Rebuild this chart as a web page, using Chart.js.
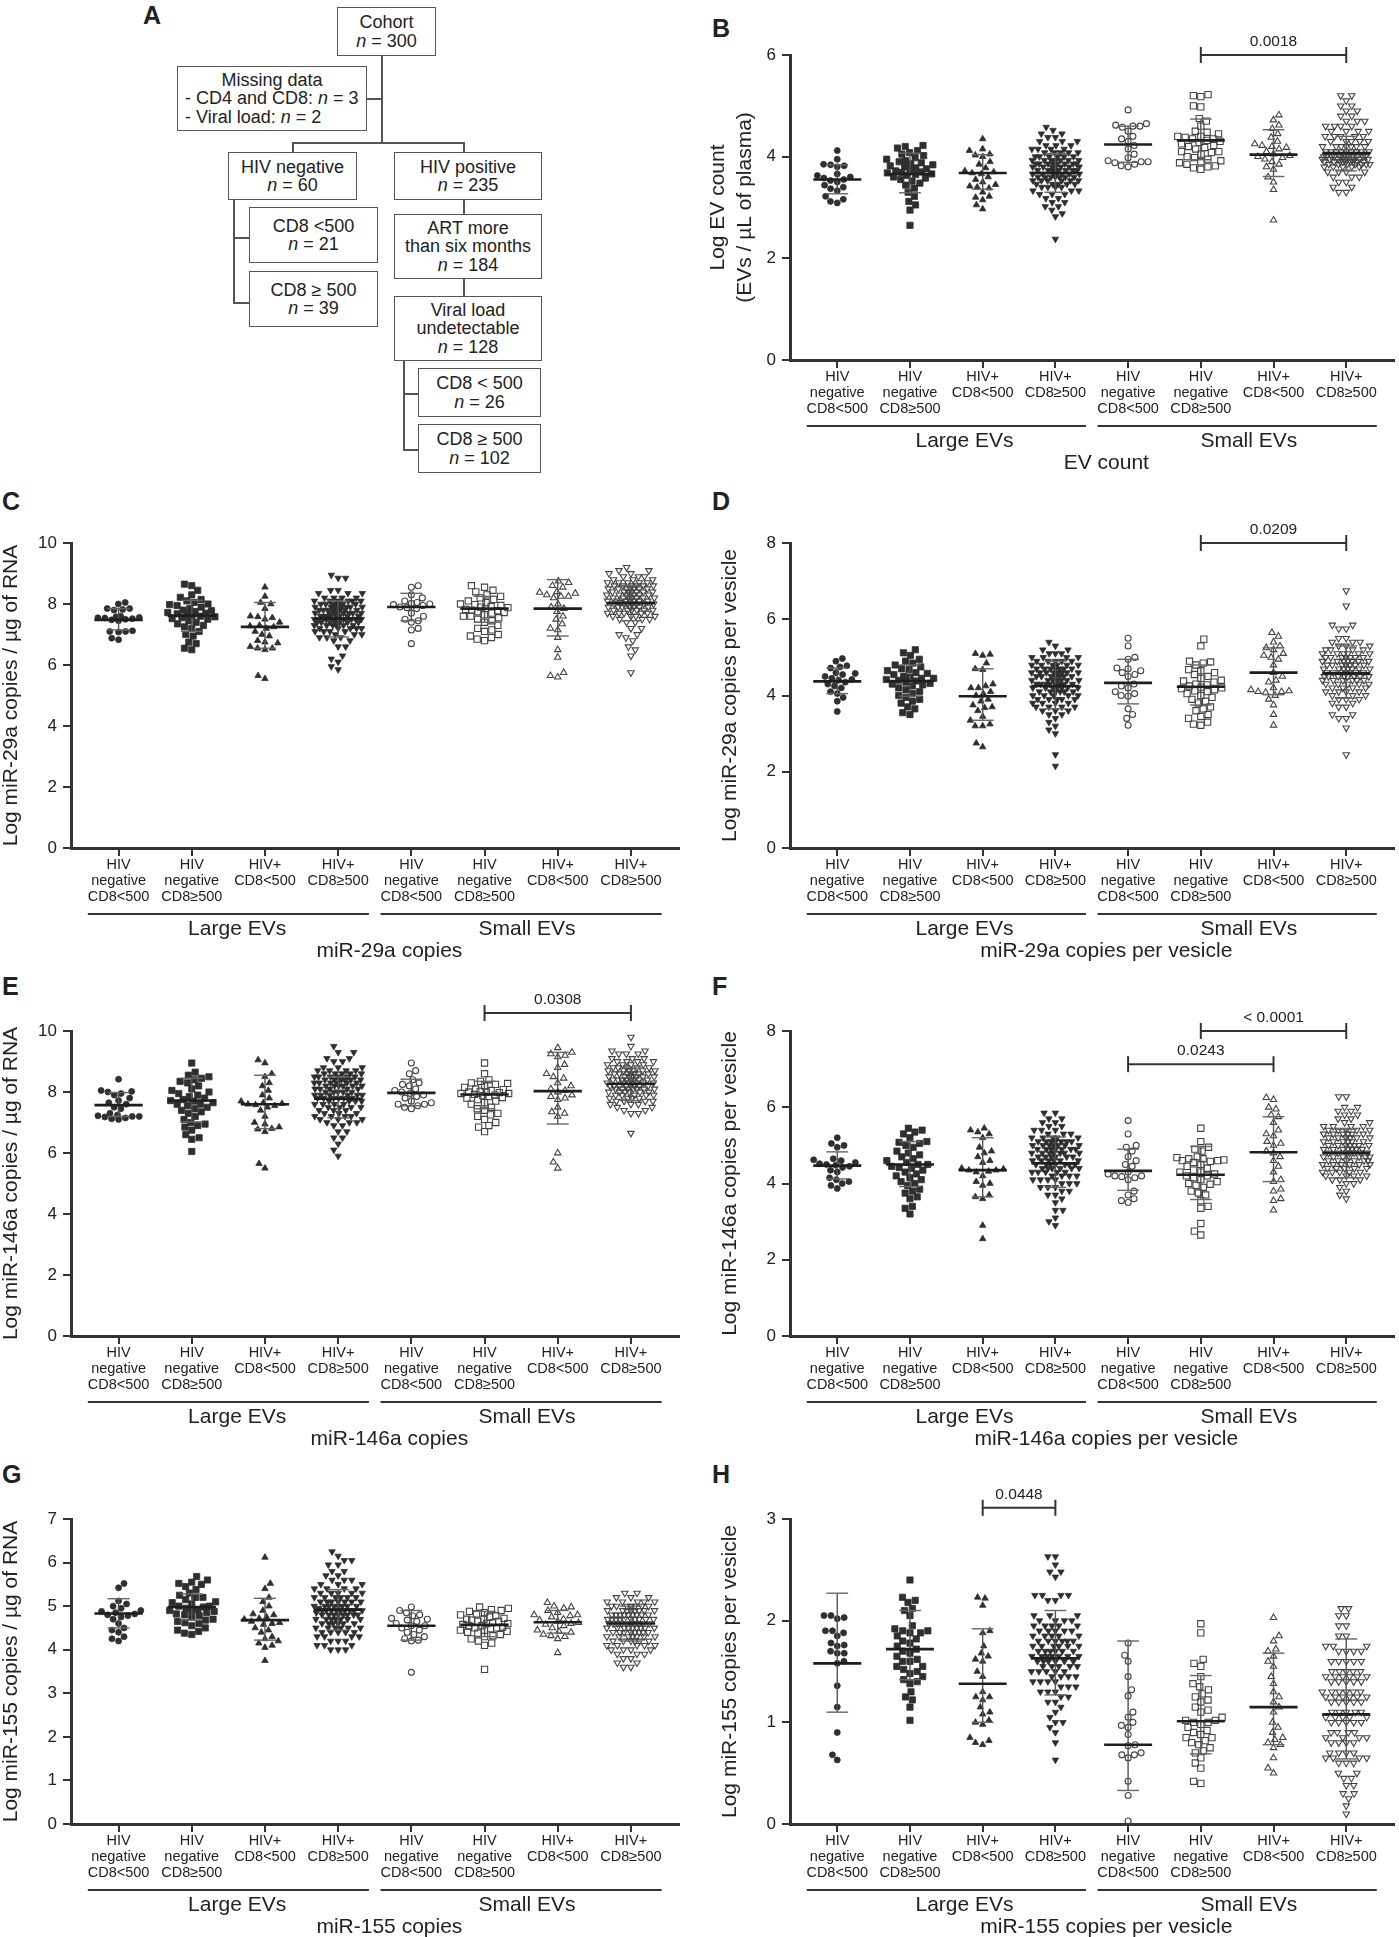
<!DOCTYPE html>
<html>
<head>
<meta charset="utf-8">
<script src="https://cdn.jsdelivr.net/npm/chart.js@4.4.1/dist/chart.umd.min.js"></script>
<style>
body{margin:0;background:#fff;width:1399px;height:1937px;position:relative;overflow:hidden;font-family:"Liberation Sans",Arial,sans-serif;color:#222}
.box{position:absolute;border:1.5px solid #555;box-sizing:border-box;display:flex;flex-direction:column;justify-content:center;align-items:center;font-size:18px;line-height:18.5px;text-align:center}
.ln{position:absolute;background:#555}
.lt{position:absolute;font-weight:bold;font-size:25px;line-height:28px}
canvas{position:absolute}
</style>
</head>
<body>

<!-- panel A: cohort flowchart -->
<div class="lt" style="left:143px;top:1px">A</div>
<div class="box" style="left:337px;top:7px;width:99px;height:49px"><div>Cohort</div><div><i>n</i> = 300</div></div>
<div class="box" style="left:177px;top:66px;width:190px;height:65px;align-items:stretch">
  <div style="text-align:center">Missing data</div>
  <div style="text-align:left;padding-left:7px">- CD4 and CD8: <i>n</i> = 3</div>
  <div style="text-align:left;padding-left:7px">- Viral load: <i>n</i> = 2</div>
</div>
<div class="box" style="left:228px;top:152px;width:129px;height:48px"><div>HIV negative</div><div><i>n</i> = 60</div></div>
<div class="box" style="left:394px;top:152px;width:148px;height:48px"><div>HIV positive</div><div><i>n</i> = 235</div></div>
<div class="box" style="left:249px;top:207px;width:129px;height:56px"><div>CD8 &lt;500</div><div><i>n</i> = 21</div></div>
<div class="box" style="left:249px;top:271px;width:129px;height:56px"><div>CD8 ≥ 500</div><div><i>n</i> = 39</div></div>
<div class="box" style="left:394px;top:214px;width:148px;height:65px"><div>ART more</div><div>than six months</div><div><i>n</i> = 184</div></div>
<div class="box" style="left:394px;top:296px;width:148px;height:65px"><div>Viral load</div><div>undetectable</div><div><i>n</i> = 128</div></div>
<div class="box" style="left:418px;top:368px;width:123px;height:49px"><div>CD8 &lt; 500</div><div><i>n</i> = 26</div></div>
<div class="box" style="left:418px;top:424px;width:123px;height:49px"><div>CD8 ≥ 500</div><div><i>n</i> = 102</div></div>
<div class="ln" style="left:381px;top:56px;width:1.5px;height:87px"></div>
<div class="ln" style="left:367px;top:98px;width:15px;height:1.5px"></div>
<div class="ln" style="left:292px;top:142px;width:173px;height:1.5px"></div>
<div class="ln" style="left:292px;top:142px;width:1.5px;height:10px"></div>
<div class="ln" style="left:463px;top:142px;width:1.5px;height:10px"></div>
<div class="ln" style="left:233px;top:200px;width:1.5px;height:104px"></div>
<div class="ln" style="left:233px;top:237px;width:16px;height:1.5px"></div>
<div class="ln" style="left:233px;top:302px;width:16px;height:1.5px"></div>
<div class="ln" style="left:463px;top:200px;width:1.5px;height:14px"></div>
<div class="ln" style="left:463px;top:279px;width:1.5px;height:17px"></div>
<div class="ln" style="left:403px;top:361px;width:1.5px;height:90px"></div>
<div class="ln" style="left:403px;top:393px;width:15px;height:1.5px"></div>
<div class="ln" style="left:403px;top:449px;width:15px;height:1.5px"></div>

<div class="lt" style="left:712px;top:14px">B</div>
<div class="lt" style="left:2px;top:487px">C</div>
<div class="lt" style="left:712px;top:487px">D</div>
<div class="lt" style="left:2px;top:972px">E</div>
<div class="lt" style="left:712px;top:972px">F</div>
<div class="lt" style="left:2px;top:1460px">G</div>
<div class="lt" style="left:712px;top:1460px">H</div>

<script>
// groups: large EVs (4) then small EVs (4)
const categories = [
  ['HIV', 'negative', 'CD8<500'], ['HIV', 'negative', 'CD8≥500'], ['HIV+', 'CD8<500'], ['HIV+', 'CD8≥500'],
  ['HIV', 'negative', 'CD8<500'], ['HIV', 'negative', 'CD8≥500'], ['HIV+', 'CD8<500'], ['HIV+', 'CD8≥500']
];
const groupLabels = ['Large EVs', 'Small EVs'];

// B - EV count
const evCount = [
  [4.12,3.95,3.85,3.84,3.82,3.8,3.66,3.63,3.6,3.58,3.55,3.53,3.5,3.44,3.4,3.37,3.33,3.22,3.16,3.12,3.09],
  [4.22,4.2,4.17,4.12,4.08,4.05,4.02,3.98,3.95,3.92,3.9,3.88,3.86,3.84,3.82,3.8,3.78,3.76,3.74,3.72,3.7,3.69,3.68,3.66,3.65,3.63,3.6,3.58,3.55,3.52,3.48,3.44,3.38,3.3,3.22,3.12,3.05,2.95,2.65],
  [4.35,4.15,4.12,4.05,4.03,4.0,3.9,3.85,3.78,3.72,3.7,3.68,3.66,3.6,3.55,3.5,3.45,3.42,3.4,3.38,3.3,3.22,3.2,3.15,3.05,2.97],
  [4.58,4.52,4.45,4.45,4.38,4.38,4.3,4.3,4.3,4.22,4.22,4.22,4.15,4.15,4.15,4.15,4.08,4.08,4.08,4.08,4.08,4.0,4.0,4.0,4.0,4.0,4.0,3.93,3.93,3.93,3.93,3.93,3.93,3.93,3.86,3.86,3.86,3.86,3.86,3.86,3.86,3.86,3.8,3.8,3.8,3.8,3.8,3.8,3.8,3.73,3.73,3.73,3.73,3.73,3.73,3.73,3.73,3.66,3.66,3.66,3.66,3.66,3.66,3.66,3.6,3.6,3.6,3.6,3.6,3.6,3.6,3.53,3.53,3.53,3.53,3.53,3.53,3.46,3.46,3.46,3.46,3.46,3.4,3.4,3.4,3.4,3.33,3.33,3.33,3.26,3.26,3.26,3.18,3.18,3.1,3.1,3.02,3.02,2.95,2.88,2.82,2.38],
  [4.92,4.65,4.62,4.6,4.6,4.58,4.5,4.4,4.35,4.3,4.22,4.15,4.05,3.98,3.92,3.9,3.9,3.88,3.85,3.82,3.8],
  [5.22,5.2,5.18,5.0,4.98,4.75,4.7,4.6,4.5,4.48,4.45,4.4,4.4,4.38,4.35,4.32,4.3,4.28,4.25,4.22,4.2,4.18,4.15,4.1,4.08,4.05,4.0,3.98,3.95,3.92,3.9,3.88,3.85,3.82,3.8,3.78,3.75,4.35,4.1],
  [4.82,4.72,4.62,4.55,4.45,4.38,4.3,4.25,4.2,4.18,4.15,4.1,4.05,4.02,4.0,3.95,3.9,3.85,3.8,3.75,3.6,3.5,3.35,2.75,4.22,3.98],
  [5.2,5.2,5.1,5.0,5.0,4.9,4.9,4.8,4.8,4.7,4.7,4.7,4.6,4.6,4.6,4.6,4.5,4.5,4.5,4.5,4.4,4.4,4.4,4.4,4.4,4.3,4.3,4.3,4.3,4.3,4.2,4.2,4.2,4.2,4.2,4.2,4.2,4.1,4.1,4.1,4.1,4.1,4.1,4.1,4.1,4.1,4.0,4.0,4.0,4.0,4.0,4.0,4.0,4.0,4.0,4.0,4.0,4.0,3.95,3.95,3.95,3.95,3.95,3.95,3.95,3.95,3.95,3.95,3.9,3.9,3.9,3.9,3.9,3.9,3.9,3.9,3.9,3.85,3.85,3.85,3.85,3.85,3.85,3.85,3.8,3.8,3.8,3.8,3.8,3.7,3.7,3.7,3.7,3.6,3.6,3.6,3.5,3.5,3.4,3.4,3.3,3.3]
];
const evCountMid = [3.55, 3.66, 3.68, 3.68, 4.24, 4.32, 4.04, 4.07];
const evCountLo = [3.27, 3.29, 3.36, 3.30, 3.89, 3.94, 3.61, 3.72];
const evCountHi = [3.84, 4.07, 4.04, 4.06, 4.60, 4.74, 4.53, 4.40];

// C - miR-29a copies
const mir29a = [
  [8.05,8.0,7.85,7.85,7.82,7.8,7.6,7.58,7.56,7.55,7.54,7.52,7.5,7.48,7.45,7.12,7.1,7.1,7.08,6.88,6.83],
  [8.65,8.6,8.45,8.3,8.22,8.15,8.1,8.05,8.0,7.98,7.95,7.9,7.85,7.8,7.78,7.75,7.72,7.7,7.68,7.65,7.62,7.6,7.58,7.55,7.52,7.5,7.45,7.4,7.35,7.3,7.25,7.2,7.1,7.0,6.95,6.75,6.7,6.55,6.5],
  [8.55,8.25,8.05,8.0,7.85,7.6,7.58,7.55,7.5,7.4,7.3,7.28,7.25,7.2,7.1,7.0,6.95,6.8,6.75,6.72,6.6,6.55,6.55,6.5,5.65,5.55],
  [8.95,8.85,8.85,8.45,8.45,8.35,8.35,8.35,8.2,8.2,8.2,8.2,8.1,8.1,8.1,8.1,8.1,8.1,8.0,8.0,8.0,8.0,8.0,8.0,8.0,7.9,7.9,7.9,7.9,7.9,7.9,7.9,7.9,7.8,7.8,7.8,7.8,7.8,7.8,7.8,7.8,7.7,7.7,7.7,7.7,7.7,7.7,7.7,7.7,7.6,7.6,7.6,7.6,7.6,7.6,7.6,7.6,7.5,7.5,7.5,7.5,7.5,7.5,7.5,7.5,7.4,7.4,7.4,7.4,7.4,7.4,7.4,7.3,7.3,7.3,7.3,7.3,7.3,7.2,7.2,7.2,7.2,7.2,7.1,7.1,7.1,7.1,7.0,7.0,7.0,6.9,6.9,6.9,6.8,6.8,6.6,6.6,6.3,6.2,6.1,5.95,5.85],
  [8.6,8.55,8.3,8.2,8.1,8.05,8.02,8.0,7.98,7.95,7.9,7.88,7.85,7.7,7.6,7.5,7.45,7.4,7.2,7.15,6.7],
  [8.6,8.55,8.45,8.4,8.3,8.25,8.2,8.15,8.1,8.05,8.0,7.98,7.95,7.92,7.9,7.88,7.85,7.82,7.8,7.78,7.75,7.72,7.7,7.65,7.6,7.55,7.5,7.45,7.4,7.3,7.2,7.15,7.1,7.0,6.95,6.9,6.85,6.8,7.6],
  [8.75,8.7,8.6,8.55,8.4,8.38,8.35,8.3,8.25,8.25,8.2,8.0,7.9,7.85,7.75,7.6,7.5,7.35,7.2,7.15,6.9,6.5,6.25,5.75,5.65,5.6],
  [9.2,9.1,9.1,9.0,9.0,8.9,8.9,8.9,8.8,8.8,8.8,8.7,8.7,8.7,8.7,8.7,8.6,8.6,8.6,8.6,8.6,8.6,8.5,8.5,8.5,8.5,8.5,8.5,8.5,8.4,8.4,8.4,8.4,8.4,8.4,8.4,8.3,8.3,8.3,8.3,8.3,8.3,8.3,8.2,8.2,8.2,8.2,8.2,8.2,8.2,8.1,8.1,8.1,8.1,8.1,8.1,8.1,8.05,8.0,8.0,8.0,8.0,8.0,8.0,8.0,7.9,7.9,7.9,7.9,7.9,7.9,7.9,7.8,7.8,7.8,7.8,7.8,7.8,7.7,7.7,7.7,7.7,7.7,7.6,7.6,7.6,7.6,7.5,7.5,7.5,7.4,7.4,7.2,7.2,7.0,7.0,6.9,6.8,6.6,6.5,6.3,5.75]
];
const mir29aMid = [7.48, 7.62, 7.25, 7.52, 7.90, 7.85, 7.85, 8.03];
const mir29aLo = [7.15, 7.10, 6.55, 6.92, 7.45, 7.40, 6.95, 7.45];
const mir29aHi = [7.85, 8.12, 8.05, 8.10, 8.35, 8.25, 8.80, 8.60];

// D - miR-29a copies per vesicle
const mir29aVes = [
  [4.97,4.9,4.78,4.75,4.72,4.6,4.58,4.55,4.5,4.45,4.42,4.4,4.35,4.3,4.25,4.2,4.1,4.05,3.95,3.85,3.58],
  [5.2,5.12,5.05,4.95,4.9,4.85,4.8,4.75,4.7,4.68,4.65,4.6,4.58,4.55,4.5,4.48,4.45,4.42,4.4,4.38,4.35,4.32,4.3,4.28,4.25,4.2,4.15,4.1,4.05,4.0,3.95,3.9,3.85,3.8,3.7,3.65,3.55,3.5,4.45],
  [5.1,5.08,5.05,4.85,4.7,4.68,4.3,4.25,4.2,4.2,4.1,4.05,4.0,3.9,3.85,3.75,3.7,3.68,3.6,3.45,3.35,3.25,3.2,3.2,2.75,2.65],
  [5.4,5.3,5.2,5.2,5.1,5.1,5.1,5.0,5.0,5.0,5.0,4.9,4.9,4.9,4.9,4.9,4.8,4.8,4.8,4.8,4.8,4.8,4.7,4.7,4.7,4.7,4.7,4.7,4.7,4.6,4.6,4.6,4.6,4.6,4.6,4.6,4.6,4.5,4.5,4.5,4.5,4.5,4.5,4.5,4.4,4.4,4.4,4.4,4.4,4.4,4.4,4.3,4.3,4.3,4.3,4.3,4.3,4.3,4.3,4.2,4.2,4.2,4.2,4.2,4.2,4.2,4.1,4.1,4.1,4.1,4.1,4.1,4.0,4.0,4.0,4.0,4.0,3.9,3.9,3.9,3.9,3.9,3.8,3.8,3.8,3.8,3.7,3.7,3.7,3.7,3.6,3.6,3.6,3.5,3.5,3.4,3.3,3.2,3.1,3.0,2.45,2.15],
  [5.5,5.3,5.0,4.95,4.72,4.7,4.65,4.6,4.55,4.5,4.3,4.25,4.2,4.1,4.05,4.0,3.98,3.65,3.5,3.4,3.22],
  [5.48,5.3,4.9,4.88,4.85,4.8,4.68,4.65,4.6,4.55,4.5,4.45,4.4,4.38,4.35,4.3,4.28,4.25,4.22,4.2,4.18,4.15,4.12,4.1,4.05,4.0,3.95,3.9,3.85,3.8,3.7,3.65,3.6,3.5,3.45,3.4,3.3,3.25,3.22],
  [5.65,5.55,5.4,5.3,5.25,5.2,5.1,5.05,5.0,4.95,4.8,4.6,4.5,4.4,4.35,4.2,4.15,4.12,4.1,4.1,4.08,4.0,3.9,3.75,3.5,3.22],
  [6.75,6.35,5.85,5.85,5.75,5.75,5.5,5.5,5.4,5.4,5.4,5.3,5.3,5.3,5.2,5.2,5.2,5.2,5.1,5.1,5.1,5.1,5.1,5.1,5.0,5.0,5.0,5.0,5.0,5.0,5.0,4.9,4.9,4.9,4.9,4.9,4.9,4.9,4.8,4.8,4.8,4.8,4.8,4.8,4.8,4.7,4.7,4.7,4.7,4.7,4.7,4.7,4.6,4.6,4.6,4.6,4.6,4.6,4.6,4.5,4.5,4.5,4.5,4.5,4.5,4.5,4.5,4.4,4.4,4.4,4.4,4.4,4.4,4.3,4.3,4.3,4.3,4.3,4.2,4.2,4.2,4.2,4.1,4.1,4.1,4.1,4.0,4.0,4.0,3.9,3.9,3.9,3.8,3.8,3.7,3.7,3.5,3.5,3.4,3.4,3.15,2.45]
];
const mir29aVesMid = [4.37, 4.38, 3.98, 4.25, 4.33, 4.23, 4.60, 4.58];
const mir29aVesLo = [4.05, 3.98, 3.35, 3.65, 3.78, 3.75, 4.02, 3.93];
const mir29aVesHi = [4.72, 4.80, 4.70, 4.90, 4.95, 4.80, 5.25, 5.30];

// E - miR-146a copies
const mir146a = [
  [8.42,8.05,8.02,8.0,7.95,7.9,7.8,7.72,7.65,7.6,7.5,7.45,7.3,7.25,7.22,7.2,7.2,7.18,7.15,7.12,7.1],
  [8.95,8.65,8.55,8.5,8.45,8.4,8.35,8.3,8.2,8.1,8.05,8.0,7.95,7.9,7.85,7.8,7.75,7.72,7.7,7.65,7.6,7.55,7.5,7.45,7.4,7.35,7.3,7.2,7.1,7.0,6.95,6.9,6.85,6.75,6.6,6.5,6.45,6.05,7.6],
  [9.05,8.95,8.6,8.5,8.3,8.2,8.05,7.9,7.8,7.7,7.65,7.62,7.6,7.58,7.55,7.5,7.4,7.2,7.0,6.95,6.85,6.8,6.78,6.7,5.65,5.5],
  [9.5,9.3,9.3,9.1,9.1,9.0,9.0,8.8,8.8,8.8,8.7,8.7,8.7,8.7,8.6,8.6,8.6,8.6,8.6,8.5,8.5,8.5,8.5,8.5,8.5,8.4,8.4,8.4,8.4,8.4,8.4,8.3,8.3,8.3,8.3,8.3,8.3,8.2,8.2,8.2,8.2,8.2,8.2,8.1,8.1,8.1,8.1,8.1,8.0,8.0,8.0,8.0,8.0,7.9,7.9,7.9,7.9,7.9,7.9,7.8,7.8,7.8,7.8,7.8,7.8,7.7,7.7,7.7,7.7,7.6,7.6,7.6,7.6,7.5,7.5,7.5,7.5,7.4,7.4,7.4,7.3,7.3,7.3,7.2,7.2,7.2,7.2,7.1,7.1,7.1,7.0,7.0,7.0,6.9,6.9,6.7,6.7,6.5,6.5,6.3,6.1,5.9],
  [8.95,8.7,8.6,8.4,8.3,8.25,8.2,8.1,8.05,8.0,7.95,7.9,7.85,7.8,7.7,7.65,7.6,7.6,7.55,7.5,7.45],
  [8.95,8.6,8.4,8.35,8.3,8.28,8.25,8.2,8.15,8.1,8.08,8.05,8.02,8.0,7.98,7.95,7.92,7.9,7.88,7.85,7.82,7.8,7.75,7.7,7.65,7.6,7.5,7.45,7.4,7.3,7.25,7.2,7.1,7.0,6.9,6.85,6.7,7.95,8.0],
  [9.45,9.3,9.25,9.2,9.15,8.9,8.8,8.6,8.5,8.45,8.2,8.1,8.05,8.0,7.9,7.85,7.8,7.75,7.5,7.35,7.3,7.2,6.0,5.7,5.5,8.3],
  [9.8,9.5,9.35,9.35,9.25,9.25,9.25,9.1,9.1,9.1,9.0,9.0,9.0,9.0,8.9,8.9,8.9,8.9,8.8,8.8,8.8,8.8,8.8,8.7,8.7,8.7,8.7,8.7,8.7,8.6,8.6,8.6,8.6,8.6,8.6,8.6,8.5,8.5,8.5,8.5,8.5,8.5,8.5,8.4,8.4,8.4,8.4,8.4,8.4,8.4,8.4,8.3,8.3,8.3,8.3,8.3,8.3,8.3,8.2,8.2,8.2,8.2,8.2,8.2,8.2,8.2,8.1,8.1,8.1,8.1,8.1,8.1,8.1,8.0,8.0,8.0,8.0,8.0,8.0,7.9,7.9,7.9,7.9,7.9,7.8,7.8,7.8,7.8,7.7,7.7,7.7,7.7,7.6,7.6,7.6,7.5,7.5,7.4,7.4,7.3,7.3,6.65]
];
const mir146aMid = [7.57, 7.72, 7.60, 7.78, 7.97, 7.92, 8.03, 8.27];
const mir146aLo = [7.20, 7.02, 6.80, 7.15, 7.55, 7.45, 6.95, 7.72];
const mir146aHi = [7.98, 8.45, 8.55, 8.50, 8.42, 8.35, 9.30, 8.82];

// F - miR-146a copies per vesicle
const mir146aVes = [
  [5.2,5.05,5.0,4.95,4.65,4.62,4.6,4.55,4.52,4.5,4.48,4.45,4.42,4.35,4.3,4.15,4.1,4.05,4.0,3.95,3.87],
  [5.45,5.4,5.35,5.3,5.2,5.1,5.08,5.05,5.0,4.95,4.85,4.8,4.75,4.7,4.65,4.6,4.55,4.5,4.45,4.42,4.4,4.35,4.3,4.25,4.2,4.15,4.1,4.05,4.0,3.95,3.85,3.8,3.75,3.65,3.6,3.4,3.35,3.2,4.5],
  [5.45,5.4,5.35,5.3,5.2,4.95,4.85,4.7,4.6,4.55,4.4,4.38,4.35,4.35,4.32,4.3,4.2,4.05,4.0,3.95,3.7,3.65,3.6,2.9,2.55,4.8],
  [5.85,5.85,5.7,5.7,5.6,5.6,5.5,5.5,5.4,5.4,5.4,5.3,5.3,5.3,5.2,5.2,5.2,5.2,5.2,5.1,5.1,5.1,5.1,5.1,5.1,5.1,5.0,5.0,5.0,5.0,5.0,5.0,5.0,4.9,4.9,4.9,4.9,4.9,4.9,4.9,4.8,4.8,4.8,4.8,4.8,4.8,4.8,4.7,4.7,4.7,4.7,4.7,4.7,4.6,4.6,4.6,4.6,4.6,4.6,4.5,4.5,4.5,4.5,4.5,4.5,4.5,4.4,4.4,4.4,4.4,4.4,4.4,4.3,4.3,4.3,4.3,4.3,4.2,4.2,4.2,4.2,4.1,4.1,4.1,4.1,4.0,4.0,4.0,3.9,3.9,3.9,3.8,3.8,3.7,3.7,3.6,3.5,3.3,3.3,3.1,3.0,2.9],
  [5.65,5.3,5.0,4.95,4.85,4.7,4.6,4.5,4.45,4.3,4.25,4.2,4.2,4.18,4.15,4.1,3.8,3.7,3.6,3.55,3.5],
  [5.45,5.1,4.95,4.9,4.85,4.7,4.68,4.65,4.62,4.6,4.58,4.55,4.5,4.45,4.4,4.35,4.3,4.25,4.2,4.15,4.1,4.05,4.0,3.95,3.9,3.8,3.75,3.7,3.55,3.4,3.35,2.95,2.75,2.65,4.6,4.3,4.2,3.98,4.65],
  [6.25,6.2,6.0,5.95,5.8,5.75,5.6,5.4,5.3,5.25,5.1,5.0,4.85,4.8,4.7,4.6,4.45,4.3,4.1,4.05,3.85,3.8,3.6,3.55,3.3,5.05],
  [6.28,6.28,6.0,6.0,5.9,5.9,5.8,5.8,5.7,5.7,5.6,5.6,5.5,5.5,5.5,5.5,5.4,5.4,5.4,5.4,5.4,5.3,5.3,5.3,5.3,5.3,5.3,5.2,5.2,5.2,5.2,5.2,5.2,5.1,5.1,5.1,5.1,5.1,5.1,5.0,5.0,5.0,5.0,5.0,5.0,5.0,4.9,4.9,4.9,4.9,4.9,4.9,4.9,4.8,4.8,4.8,4.8,4.8,4.8,4.8,4.7,4.7,4.7,4.7,4.7,4.7,4.7,4.6,4.6,4.6,4.6,4.6,4.6,4.5,4.5,4.5,4.5,4.5,4.5,4.4,4.4,4.4,4.4,4.4,4.3,4.3,4.3,4.3,4.3,4.2,4.2,4.2,4.2,4.1,4.1,4.1,4.0,4.0,3.9,3.8,3.7,3.6]
];
const mir146aVesMid = [4.47, 4.50, 4.35, 4.53, 4.33, 4.23, 4.82, 4.80];
const mir146aVesLo = [4.12, 3.92, 3.65, 3.90, 3.82, 3.58, 4.05, 4.15];
const mir146aVesHi = [4.83, 5.10, 5.20, 5.22, 4.90, 4.97, 5.75, 5.42];

// G - miR-155 copies
const mir155 = [
  [5.52,5.42,5.12,5.05,5.0,4.95,4.9,4.85,4.82,4.8,4.78,4.75,4.7,4.6,4.5,4.45,4.4,4.3,4.25,4.2,4.88],
  [5.68,5.6,5.55,5.52,5.5,5.45,5.38,5.3,5.25,5.2,5.2,5.15,5.1,5.08,5.05,5.0,4.98,4.95,4.92,4.9,4.88,4.85,4.82,4.8,4.78,4.75,4.7,4.68,4.65,4.62,4.6,4.55,4.5,4.45,4.42,4.38,4.35,5.0,4.9],
  [6.12,5.52,5.4,5.2,5.1,5.0,4.9,4.82,4.75,4.72,4.7,4.65,4.62,4.6,4.58,4.5,4.4,4.3,4.25,4.2,4.15,4.1,4.05,3.75,4.8,4.45],
  [6.25,6.15,6.05,6.05,5.95,5.95,5.8,5.8,5.7,5.7,5.6,5.6,5.6,5.5,5.5,5.5,5.4,5.4,5.4,5.4,5.3,5.3,5.3,5.3,5.3,5.2,5.2,5.2,5.2,5.2,5.2,5.1,5.1,5.1,5.1,5.1,5.1,5.1,5.0,5.0,5.0,5.0,5.0,5.0,5.0,5.0,4.95,4.9,4.9,4.9,4.9,4.9,4.9,4.9,4.9,4.9,4.85,4.8,4.8,4.8,4.8,4.8,4.8,4.8,4.8,4.7,4.7,4.7,4.7,4.7,4.7,4.7,4.6,4.6,4.6,4.6,4.6,4.6,4.5,4.5,4.5,4.5,4.5,4.5,4.4,4.4,4.4,4.4,4.4,4.3,4.3,4.3,4.3,4.2,4.2,4.2,4.1,4.1,4.1,4.0,4.0,4.0],
  [4.98,4.9,4.85,4.8,4.78,4.72,4.7,4.68,4.65,4.6,4.55,4.55,4.5,4.45,4.4,4.35,4.3,4.25,4.22,4.2,3.48],
  [4.98,4.95,4.92,4.9,4.88,4.85,4.82,4.8,4.78,4.75,4.72,4.7,4.68,4.65,4.62,4.6,4.58,4.55,4.52,4.5,4.48,4.45,4.42,4.4,4.38,4.35,4.32,4.3,4.25,4.2,4.15,4.1,4.6,4.5,4.7,4.55,4.45,4.65,3.55],
  [5.08,5.0,4.98,4.95,4.9,4.85,4.8,4.8,4.78,4.75,4.7,4.68,4.65,4.6,4.58,4.55,4.5,4.45,4.42,4.4,4.35,4.32,4.3,4.25,3.93,4.62],
  [5.3,5.3,5.2,5.2,5.2,5.1,5.1,5.1,5.1,5.1,5.0,5.0,5.0,5.0,5.0,5.0,5.0,4.9,4.9,4.9,4.9,4.9,4.9,4.9,4.9,4.8,4.8,4.8,4.8,4.8,4.8,4.8,4.8,4.8,4.7,4.7,4.7,4.7,4.7,4.7,4.7,4.7,4.7,4.7,4.6,4.6,4.6,4.6,4.6,4.6,4.6,4.6,4.6,4.6,4.5,4.5,4.5,4.5,4.5,4.5,4.5,4.5,4.5,4.4,4.4,4.4,4.4,4.4,4.4,4.4,4.4,4.3,4.3,4.3,4.3,4.3,4.3,4.3,4.2,4.2,4.2,4.2,4.2,4.2,4.1,4.1,4.1,4.1,4.1,4.0,4.0,4.0,4.0,3.9,3.9,3.9,3.8,3.8,3.7,3.7,3.6,3.6]
];
const mir155Mid = [4.83, 4.98, 4.68, 4.92, 4.55, 4.57, 4.63, 4.60];
const mir155Lo = [4.50, 4.68, 4.22, 4.45, 4.22, 4.30, 4.38, 4.20];
const mir155Hi = [5.17, 5.28, 5.18, 5.38, 4.90, 4.88, 4.90, 5.00];

// H - miR-155 copies per vesicle
const mir155Ves = [
  [2.05,2.05,2.03,2.02,1.9,1.9,1.88,1.85,1.78,1.76,1.75,1.7,1.68,1.68,1.6,1.58,1.36,1.15,0.9,0.68,0.63],
  [2.4,2.23,2.2,2.18,2.12,2.1,2.05,1.95,1.92,1.9,1.9,1.88,1.85,1.82,1.8,1.78,1.75,1.72,1.7,1.68,1.65,1.62,1.6,1.55,1.52,1.5,1.48,1.45,1.42,1.4,1.38,1.3,1.25,1.22,1.15,1.02,1.88,1.6,1.55],
  [2.23,2.22,2.15,1.9,1.88,1.75,1.68,1.65,1.6,1.5,1.25,1.22,1.25,1.15,1.1,1.08,1.0,0.98,0.85,0.82,0.8,0.78,1.62,1.45,1.3,1.02],
  [2.63,2.63,2.55,2.48,2.48,2.43,2.25,2.25,2.25,2.25,2.2,2.2,2.05,2.05,2.05,2.0,2.0,2.0,2.0,1.95,1.95,1.95,1.95,1.95,1.9,1.9,1.9,1.9,1.9,1.85,1.85,1.85,1.85,1.85,1.8,1.8,1.8,1.8,1.8,1.8,1.75,1.75,1.75,1.75,1.75,1.75,1.7,1.7,1.7,1.7,1.7,1.7,1.65,1.65,1.65,1.65,1.65,1.65,1.65,1.6,1.6,1.6,1.6,1.6,1.6,1.55,1.55,1.55,1.55,1.55,1.5,1.5,1.5,1.5,1.5,1.45,1.45,1.45,1.45,1.4,1.4,1.4,1.4,1.35,1.35,1.35,1.3,1.3,1.3,1.25,1.25,1.2,1.2,1.15,1.1,1.05,1.0,1.0,0.95,0.9,0.8,0.63],
  [1.78,1.66,1.6,1.45,1.32,1.26,1.1,1.05,1.0,0.97,0.95,0.88,0.78,0.77,0.7,0.68,0.68,0.65,0.42,0.28,0.03],
  [1.97,1.88,1.62,1.58,1.55,1.45,1.38,1.35,1.32,1.28,1.25,1.22,1.2,1.15,1.1,1.05,1.02,1.02,1.0,0.98,0.95,0.92,0.88,0.85,0.82,0.8,0.78,0.75,0.72,0.7,0.65,0.6,0.55,0.42,0.4,1.12,1.0,0.9,0.85],
  [2.03,1.85,1.8,1.72,1.7,1.65,1.6,1.55,1.45,1.38,1.3,1.25,1.2,1.15,1.0,0.95,0.85,0.83,0.8,0.78,0.75,0.65,0.55,0.5,1.1,0.9],
  [2.12,2.12,2.05,2.05,1.95,1.95,1.85,1.85,1.75,1.75,1.75,1.7,1.7,1.7,1.7,1.6,1.6,1.6,1.6,1.6,1.5,1.5,1.5,1.5,1.5,1.45,1.45,1.45,1.45,1.45,1.45,1.4,1.4,1.4,1.4,1.4,1.3,1.3,1.3,1.3,1.3,1.3,1.25,1.25,1.25,1.25,1.25,1.25,1.2,1.2,1.2,1.2,1.2,1.1,1.1,1.1,1.1,1.1,1.05,1.05,1.05,1.05,1.05,1.0,1.0,1.0,1.0,1.0,0.9,0.9,0.9,0.9,0.85,0.85,0.85,0.85,0.8,0.8,0.8,0.8,0.7,0.7,0.7,0.7,0.65,0.65,0.65,0.65,0.6,0.6,0.6,0.5,0.5,0.45,0.45,0.38,0.38,0.3,0.3,0.25,0.18,0.1]
];
const mir155VesMid = [1.58, 1.72, 1.38, 1.63, 0.78, 1.01, 1.15, 1.08];
const mir155VesLo = [1.10, 1.42, 1.00, 1.27, 0.33, 0.69, 0.78, 0.64];
const mir155VesHi = [2.27, 2.10, 1.92, 2.10, 1.80, 1.46, 1.68, 1.82];

const ink = '#222';
const font = '"Liberation Sans", Arial, sans-serif';
Chart.defaults.font.family = font;

const markers = [
  { style: 'circle', r: 3, open: false, rot: 0, gap: 7 },
  { style: 'rect', r: 4.4, open: false, rot: 0, gap: 7.5 },
  { style: 'triangle', r: 3.7, open: false, rot: 0, gap: 7.5 },
  { style: 'triangle', r: 3.7, open: false, rot: 180, gap: 7.5 },
  { style: 'circle', r: 3, open: true, rot: 0, gap: 7 },
  { style: 'rect', r: 4.4, open: true, rot: 0, gap: 7.5 },
  { style: 'triangle', r: 3.7, open: true, rot: 0, gap: 7.5 },
  { style: 'triangle', r: 3.7, open: true, rot: 180, gap: 7.5 }
];

function line(ctx, x1, y1, x2, y2) {
  ctx.beginPath(); ctx.moveTo(x1, y1); ctx.lineTo(x2, y2); ctx.stroke();
}

// horizontal spread of points sharing a value, GraphPad style
function pickOffset(placed, y, d, side) {
  const iv = [];
  for (const p of placed) {
    const dy = Math.abs(p[1] - y);
    if (dy < d) {
      const w = Math.sqrt(d * d - dy * dy);
      iv.push([p[0] - w, p[0] + w]);
    }
  }
  const cand = [0];
  iv.forEach(v => cand.push(v[0], v[1]));
  cand.sort((a, b) => (Math.abs(a) - Math.abs(b)) || side * (b - a));
  for (const c of cand) {
    if (!iv.some(v => c > v[0] + 1e-6 && c < v[1] - 1e-6)) return c;
  }
  return 0;
}

function swarm(py, d, maxW) {
  const order = py.map((v, i) => i).sort((a, b) => py[b] - py[a]);
  const placed = [];
  const offs = new Array(py.length);
  let side = 1;
  for (const i of order) {
    let dd = d, best = 0;
    for (let t = 0; t < 7; t++) {
      best = pickOffset(placed, py[i], dd, side);
      if (Math.abs(best) <= maxW) break;
      dd *= 0.82;
    }
    if (Math.abs(best) > maxW) best = Math.sign(best) * maxW;
    offs[i] = best;
    placed.push([best, py[i]]);
    side = -side;
  }
  return offs;
}

function panelExtras(p) {
  return {
    id: 'extras',
    afterDatasetsDraw(chart) {
      const ctx = chart.ctx, xs = chart.scales.x, ys = chart.scales.y;
      ctx.save();
      for (let i = 0; i < 8; i++) {
        const cx = xs.getPixelForValue(i + 1);
        const half = xs.getPixelForValue(i + 1.33) - cx;
        const cap = xs.getPixelForValue(i + 1.15) - cx;
        const ym = ys.getPixelForValue(p.mid[i]);
        const yl = ys.getPixelForValue(p.lo[i]);
        const yh = ys.getPixelForValue(p.hi[i]);
        ctx.strokeStyle = '#555';
        ctx.lineWidth = 1.4;
        line(ctx, cx, yl, cx, yh);
        ctx.strokeStyle = '#666';
        line(ctx, cx - cap, yl, cx + cap, yl);
        line(ctx, cx - cap, yh, cx + cap, yh);
        ctx.strokeStyle = '#1e1e1e';
        ctx.lineWidth = 2.6;
        line(ctx, cx - half, ym, cx + half, ym);
      }
      ctx.restore();
    },
    afterDraw(chart) {
      const ctx = chart.ctx, xs = chart.scales.x, ys = chart.scales.y;
      const y0 = ys.getPixelForValue(0);
      ctx.save();
      ctx.strokeStyle = '#333';
      ctx.fillStyle = ink;
      ctx.lineWidth = 2;
      // group brackets under the tick labels
      line(ctx, xs.getPixelForValue(0.58), y0 + 66, xs.getPixelForValue(4.42), y0 + 66);
      line(ctx, xs.getPixelForValue(4.58), y0 + 66, xs.getPixelForValue(8.42), y0 + 66);
      ctx.textAlign = 'center';
      ctx.textBaseline = 'middle';
      ctx.font = '21px ' + font;
      ctx.fillText(groupLabels[0], xs.getPixelForValue(p.right ? 2.75 : 2.62), y0 + 81);
      ctx.fillText(groupLabels[1], xs.getPixelForValue(p.right ? 6.66 : 6.58), y0 + 81);
      ctx.fillText(p.xTitle, xs.getPixelForValue(4.7), y0 + 103);
      // y title
      const yc = (ys.top + ys.bottom) / 2;
      const offs = p.yTitle.length === 2 ? [-72, -45] : [-60];
      p.yTitle.forEach((t, k) => {
        ctx.save();
        ctx.translate(chart.chartArea.left + offs[k], yc);
        ctx.rotate(-Math.PI / 2);
        ctx.fillText(t, 0, 0);
        ctx.restore();
      });
      // significance brackets
      ctx.font = '15.5px ' + font;
      p.sig.forEach(s => {
        const xa = xs.getPixelForValue(s[0]), xb = xs.getPixelForValue(s[1]);
        const yy = ys.getPixelForValue(s[2]);
        line(ctx, xa, yy, xb, yy);
        line(ctx, xa, yy - 8, xa, yy + 8);
        line(ctx, xb, yy - 8, xb, yy + 8);
        ctx.fillText(s[3], (xa + xb) / 2, yy - 13);
      });
      ctx.restore();
    }
  };
}

function makePanel(p) {
  const yw = p.right ? 100 : 71;
  const plotW = p.right ? 606 : 610;
  const cv = document.createElement('canvas');
  cv.width = yw + plotW + 3;
  cv.height = 475;
  cv.style.left = (p.right ? 690 : 0) + 'px';
  cv.style.top = (p.top - 50) + 'px';
  document.body.appendChild(cv);

  const datasets = p.data.map((vals, gi) => {
    const m = markers[gi];
    return {
      data: vals.map(v => ({ x: gi + 1, y: v })),
      pointStyle: m.style,
      pointRadius: m.r,
      pointRotation: m.rot,
      pointBorderWidth: m.open ? 1.1 : 0.8,
      pointBackgroundColor: m.open ? 'rgba(255,255,255,0)' : '#2f2f2f',
      pointBorderColor: m.open ? '#444' : '#2f2f2f',
      showLine: false
    };
  });

  const chart = new Chart(cv, {
    type: 'scatter',
    data: { datasets },
    options: {
      responsive: false,
      animation: false,
      events: [],
      layout: { padding: { top: 50, right: 3, left: 0, bottom: 0 } },
      plugins: { legend: { display: false }, tooltip: { enabled: false } },
      scales: {
        x: {
          type: 'linear', min: 0.35, max: 8.65,
          afterBuildTicks: s => { s.ticks = [1, 2, 3, 4, 5, 6, 7, 8].map(v => ({ value: v })); },
          afterFit: s => { s.height = 120; },
          ticks: {
            callback: v => categories[v - 1],
            font: { size: 14.5, lineHeight: 1.1 }, color: ink,
            padding: 1, maxRotation: 0, autoSkip: false
          },
          grid: { drawOnChartArea: false, drawTicks: true, tickLength: 8, color: '#333', lineWidth: 2 },
          border: { color: '#333', width: 3 }
        },
        y: {
          min: 0, max: p.ymax,
          afterFit: s => { s.width = yw; },
          ticks: { stepSize: p.step, font: { size: 17 }, color: ink, padding: 6 },
          grid: { drawOnChartArea: false, drawTicks: true, tickLength: 8, color: '#333', lineWidth: 2 },
          border: { color: '#333', width: 3 }
        }
      }
    },
    plugins: [panelExtras(p)]
  });

  // spread each group horizontally in pixel space, then redraw
  const xs = chart.scales.x, ys = chart.scales.y;
  const unit = xs.getPixelForValue(2) - xs.getPixelForValue(1);
  chart.data.datasets.forEach((ds, gi) => {
    const vals = p.data[gi];
    const offs = swarm(vals.map(v => ys.getPixelForValue(v)), markers[gi].gap, 0.33 * unit);
    ds.data = vals.map((v, k) => ({ x: gi + 1 + offs[k] / unit, y: v }));
  });
  chart.update('none');
}

makePanel({ right: true, top: 55, ymax: 6, step: 2, data: evCount, mid: evCountMid, lo: evCountLo, hi: evCountHi,
  yTitle: ['Log EV count', '(EVs / µL of plasma)'], xTitle: 'EV count', sig: [[6, 8, 6.0, '0.0018']] });
makePanel({ right: false, top: 543, ymax: 10, step: 2, data: mir29a, mid: mir29aMid, lo: mir29aLo, hi: mir29aHi,
  yTitle: ['Log miR-29a copies / µg of RNA'], xTitle: 'miR-29a copies', sig: [] });
makePanel({ right: true, top: 543, ymax: 8, step: 2, data: mir29aVes, mid: mir29aVesMid, lo: mir29aVesLo, hi: mir29aVesHi,
  yTitle: ['Log miR-29a copies per vesicle'], xTitle: 'miR-29a copies per vesicle', sig: [[6, 8, 8.0, '0.0209']] });
makePanel({ right: false, top: 1031, ymax: 10, step: 2, data: mir146a, mid: mir146aMid, lo: mir146aLo, hi: mir146aHi,
  yTitle: ['Log miR-146a copies / µg of RNA'], xTitle: 'miR-146a copies', sig: [[6, 8, 10.59, '0.0308']] });
makePanel({ right: true, top: 1031, ymax: 8, step: 2, data: mir146aVes, mid: mir146aVesMid, lo: mir146aVesLo, hi: mir146aVesHi,
  yTitle: ['Log miR-146a copies per vesicle'], xTitle: 'miR-146a copies per vesicle',
  sig: [[6, 8, 8.0, '< 0.0001'], [5, 7, 7.13, '0.0243']] });
makePanel({ right: false, top: 1519, ymax: 7, step: 1, data: mir155, mid: mir155Mid, lo: mir155Lo, hi: mir155Hi,
  yTitle: ['Log miR-155 copies / µg of RNA'], xTitle: 'miR-155 copies', sig: [] });
makePanel({ right: true, top: 1519, ymax: 3, step: 1, data: mir155Ves, mid: mir155VesMid, lo: mir155VesLo, hi: mir155VesHi,
  yTitle: ['Log miR-155 copies per vesicle'], xTitle: 'miR-155 copies per vesicle', sig: [[3, 4, 3.11, '0.0448']] });
</script>
</body>
</html>
